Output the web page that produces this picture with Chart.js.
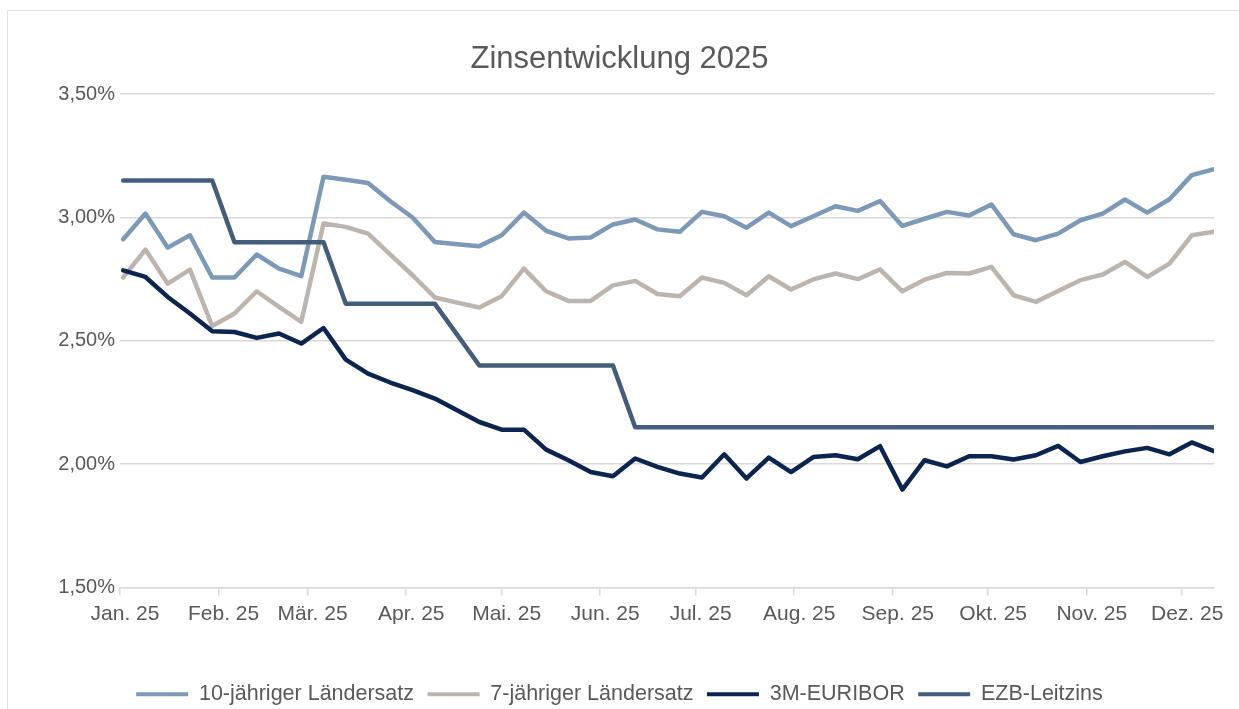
<!DOCTYPE html>
<html>
<head>
<meta charset="utf-8">
<script src="https://cdn.jsdelivr.net/npm/chart.js@4.4.1/dist/chart.umd.min.js"></script>
<style>
  html, body { margin: 0; padding: 0; background: #ffffff; }
  #wrap { width: 1239px; height: 709px; }
</style>
</head>
<body>
<div id="wrap"><canvas id="c" width="1239" height="709"></canvas></div>
<script>
// Weekly observation dates (Thursdays)
const weekDates = [
  '2025-01-02','2025-01-09','2025-01-16','2025-01-23','2025-01-30',
  '2025-02-06','2025-02-13','2025-02-20','2025-02-27',
  '2025-03-06','2025-03-13','2025-03-20','2025-03-27',
  '2025-04-03','2025-04-10','2025-04-17','2025-04-24',
  '2025-05-01','2025-05-08','2025-05-15','2025-05-22','2025-05-29',
  '2025-06-05','2025-06-12','2025-06-19','2025-06-26',
  '2025-07-03','2025-07-10','2025-07-17','2025-07-24','2025-07-31',
  '2025-08-07','2025-08-14','2025-08-21','2025-08-28',
  '2025-09-04','2025-09-11','2025-09-18','2025-09-25',
  '2025-10-02','2025-10-09','2025-10-16','2025-10-23','2025-10-30',
  '2025-11-06','2025-11-13','2025-11-20','2025-11-27',
  '2025-12-04','2025-12-11'
];

// Axis tick positions (month starts) and labels
const monthStarts = ['2025-01-01','2025-02-01','2025-03-01','2025-04-01','2025-05-01','2025-06-01',
                     '2025-07-01','2025-08-01','2025-09-01','2025-10-01','2025-11-01','2025-12-01'];
const monthLabels = ['Jan. 25','Feb. 25','Mär. 25','Apr. 25','Mai. 25','Jun. 25',
                     'Jul. 25','Aug. 25','Sep. 25','Okt. 25','Nov. 25','Dez. 25'];
const yTicks = [1.5, 2.0, 2.5, 3.0, 3.5];

// Series (percent)
const zehnJahre = [
  2.912, 3.016, 2.878, 2.928, 2.757, 2.757, 2.850, 2.793, 2.762, 3.165,
  3.153, 3.140, 3.066, 3.000, 2.901, 2.892, 2.884, 2.928, 3.020, 2.946,
  2.915, 2.919, 2.972, 2.992, 2.952, 2.942, 3.023, 3.005, 2.959, 3.020,
  2.965, 3.005, 3.046, 3.027, 3.067, 2.966, 2.995, 3.023, 3.008, 3.053,
  2.932, 2.908, 2.935, 2.989, 3.016, 3.073, 3.020, 3.074, 3.172, 3.196
];
const siebenJahre = [
  2.757, 2.870, 2.732, 2.789, 2.560, 2.611, 2.701, 2.638, 2.577, 2.976,
  2.962, 2.935, 2.850, 2.766, 2.676, 2.655, 2.635, 2.681, 2.793, 2.701,
  2.662, 2.662, 2.725, 2.743, 2.690, 2.681, 2.757, 2.735, 2.685, 2.762,
  2.708, 2.749, 2.773, 2.750, 2.790, 2.701, 2.748, 2.775, 2.773, 2.800,
  2.685, 2.658, 2.702, 2.746, 2.769, 2.820, 2.759, 2.813, 2.928, 2.942
];
const euribor3M = [
  2.786, 2.759, 2.678, 2.611, 2.539, 2.536, 2.512, 2.530, 2.489, 2.552,
  2.424, 2.367, 2.331, 2.300, 2.266, 2.219, 2.171, 2.140, 2.140, 2.059,
  2.016, 1.968, 1.951, 2.023, 1.989, 1.962, 1.946, 2.040, 1.942, 2.027,
  1.968, 2.029, 2.036, 2.020, 2.073, 1.897, 2.016, 1.991, 2.032, 2.032,
  2.019, 2.036, 2.074, 2.009, 2.032, 2.052, 2.066, 2.040, 2.088, 2.053
];
const ezbLeitzins = [
  3.15, 3.15, 3.15, 3.15, 3.15, 2.90, 2.90, 2.90, 2.90, 2.90,
  2.65, 2.65, 2.65, 2.65, 2.65, 2.525, 2.40, 2.40, 2.40, 2.40,
  2.40, 2.40, 2.40, 2.15, 2.15, 2.15, 2.15, 2.15, 2.15, 2.15,
  2.15, 2.15, 2.15, 2.15, 2.15, 2.15, 2.15, 2.15, 2.15, 2.15,
  2.15, 2.15, 2.15, 2.15, 2.15, 2.15, 2.15, 2.15, 2.15, 2.15
];

const seriesNames = ['10-jähriger Ländersatz', '7-jähriger Ländersatz', '3M-EURIBOR', 'EZB-Leitzins'];
const seriesColors = ['#7C99B7', '#BDB5AD', '#0B2450', '#445D7C'];

const DAY = 86400000;
const base = Date.parse('2025-01-01T00:00:00Z');
const dayOf = s => Math.round((Date.parse(s + 'T00:00:00Z') - base) / DAY);
const weekDays = weekDates.map(dayOf);
const monthDays = monthStarts.map(dayOf);

const textColor = '#595959';
const gridColor = '#D9D9D9';
const fontFamily = '"Liberation Sans", Arial, Helvetica, sans-serif';

const mk = (vals, idx) => ({
  label: seriesNames[idx],
  data: weekDays.map((d, i) => ({ x: d, y: vals[i] })),
  borderColor: seriesColors[idx],
  backgroundColor: seriesColors[idx],
  borderWidth: 4.5,
  pointRadius: 0,
  pointHoverRadius: 0,
  tension: 0,
  fill: false,
  borderJoinStyle: 'round',
  borderCapStyle: 'round',
  order: 3 - idx
});

const framePlugin = {
  id: 'frame',
  beforeDraw(chart) {
    const ctx = chart.ctx;
    ctx.save();
    ctx.fillStyle = '#ffffff';
    ctx.fillRect(0, 0, chart.width, chart.height);
    ctx.strokeStyle = '#E3E3E3';
    ctx.lineWidth = 1;
    ctx.beginPath();
    ctx.moveTo(7.5, chart.height);
    ctx.lineTo(7.5, 10.5);
    ctx.lineTo(chart.width, 10.5);
    ctx.stroke();
    ctx.restore();
  }
};

new Chart(document.getElementById('c'), {
  type: 'line',
  data: {
    datasets: [mk(zehnJahre, 0), mk(siebenJahre, 1), mk(euribor3M, 2), mk(ezbLeitzins, 3)]
  },
  plugins: [framePlugin],
  options: {
    responsive: false,
    animation: false,
    devicePixelRatio: 1,
    layout: { padding: { top: 21, left: 0, right: 0, bottom: -6 } },
    plugins: {
      title: {
        display: true,
        text: 'Zinsentwicklung 2025',
        color: textColor,
        font: { family: fontFamily, size: 31, weight: 'normal' },
        padding: { top: 20, bottom: 16 }
      },
      legend: {
        position: 'bottom',
        labels: {
          color: textColor,
          font: { family: fontFamily, size: 21.5 },
          boxWidth: 52,
          boxHeight: 4,
          padding: 13.5,
          sort: (a, b) => a.datasetIndex - b.datasetIndex,
          generateLabels: chart => Chart.defaults.plugins.legend.labels.generateLabels(chart)
            .map(l => Object.assign(l, { lineWidth: 0, fillStyle: seriesColors[l.datasetIndex] }))
        }
      },
      tooltip: { enabled: false }
    },
    scales: {
      x: {
        type: 'linear',
        min: 0,
        max: weekDays[weekDays.length - 1],
        afterBuildTicks: ax => { ax.ticks = monthDays.map(v => ({ value: v })); },
        ticks: {
          autoSkip: false,
          maxRotation: 0,
          padding: 6,
          labelOffset: 5,
          color: textColor,
          font: { family: fontFamily, size: 21 },
          callback: v => monthLabels[monthDays.indexOf(v)]
        },
        grid: { drawOnChartArea: false, drawTicks: true, tickLength: 8, color: gridColor, lineWidth: 1.5 },
        border: { display: true, color: gridColor, width: 1.5 },
        afterFit: s => { s.height = 82.5; }
      },
      y: {
        min: 1.5,
        max: 3.5,
        afterBuildTicks: ax => { ax.ticks = yTicks.map(v => ({ value: v })); },
        ticks: {
          padding: 5,
          color: textColor,
          font: { family: fontFamily, size: 20 },
          callback: v => v.toFixed(2).replace('.', ',') + '%'
        },
        grid: { color: gridColor, lineWidth: 1.5, drawTicks: false },
        border: { display: false },
        afterFit: s => { s.width = 120; }
      },
      yR: {
        position: 'right',
        min: 1.5,
        max: 3.5,
        ticks: { display: false },
        grid: { display: false, drawTicks: false },
        border: { display: false },
        afterFit: s => { s.width = 25; }
      }
    }
  }
});
</script>
</body>
</html>
